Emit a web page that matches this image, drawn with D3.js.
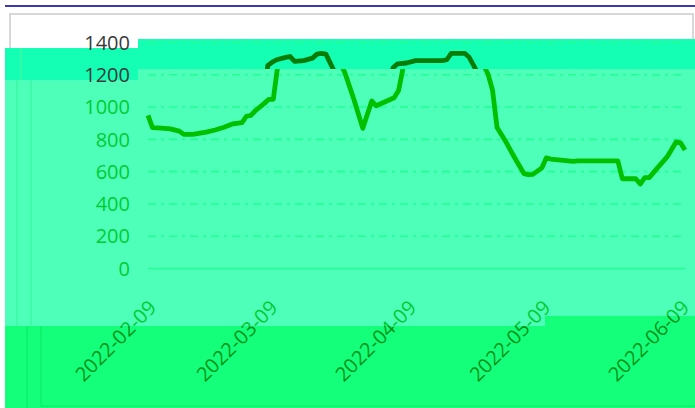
<!DOCTYPE html>
<html>
<head>
<meta charset="utf-8">
<script src="https://cdn.jsdelivr.net/npm/d3@7"></script>
<style>
  body { margin: 0; background: #fff; }
  svg { display: block; }
  .ylab text { font-family: "Open Sans", sans-serif; font-size: 20px; }
  .xlab text { font-family: "Open Sans", sans-serif; font-size: 20px; }
</style>
</head>
<body>
<div id="chart"></div>
<script>
// data
var dates = ["2022-02-09","2022-02-10","2022-02-12","2022-02-14","2022-02-16","2022-02-17","2022-02-19",
  "2022-02-22","2022-02-24","2022-02-26","2022-02-28","2022-03-02","2022-03-03","2022-03-04","2022-03-05",
  "2022-03-07","2022-03-08","2022-03-09","2022-03-10","2022-03-11","2022-03-12","2022-03-14","2022-03-15",
  "2022-03-16","2022-03-18","2022-03-20","2022-03-21","2022-03-22","2022-03-23","2022-03-25","2022-03-27",
  "2022-03-29","2022-03-31","2022-04-01","2022-04-03","2022-04-05","2022-04-06","2022-04-07","2022-04-08",
  "2022-04-10","2022-04-12","2022-04-18","2022-04-19","2022-04-20","2022-04-23","2022-04-24","2022-04-25",
  "2022-04-26","2022-04-27","2022-04-28","2022-04-30","2022-05-02","2022-05-04","2022-05-05","2022-05-06",
  "2022-05-07","2022-05-08","2022-05-09","2022-05-10","2022-05-15","2022-05-16","2022-05-24","2022-05-25",
  "2022-05-26","2022-05-28","2022-05-29","2022-05-30","2022-05-31","2022-06-01","2022-06-03","2022-06-05",
  "2022-06-07","2022-06-08","2022-06-09"];
var values = [945,870,866,862,848,828,828,
  842,855,872,893,900,940,945,975,
  1020,1045,1045,1255,1275,1290,1305,1310,
  1280,1285,1300,1325,1330,1325,1210,1045,
  865,1035,1005,1030,1055,1100,1240,1265,
  1270,1285,1285,1290,1330,1330,1305,1255,
  1200,1100,870,780,680,585,578,580,
  600,620,682,675,660,663,663,663,
  553,553,553,520,560,560,625,688,
  781,775,731];
var yTicks = [0, 200, 400, 600, 800, 1000, 1200, 1400];
var xTicks = ["2022-02-09","2022-03-09","2022-04-09","2022-05-09","2022-06-09"];

var W = 695, H = 408;
var parse = d3.timeParse("%Y-%m-%d");
var fmt = d3.timeFormat("%Y-%m-%d");
var points = dates.map(function (d, i) { return { date: parse(d), value: values[i] }; });

var svg = d3.select("#chart").append("svg")
    .attr("width", W).attr("height", H);

var x = d3.scaleTime()
    .domain([parse("2022-02-09"), parse("2022-06-09")])
    .range([148, 685]);
var y = d3.scaleLinear()
    .domain([0, 1400])
    .range([268, 42]);

// clip regions
var defs = svg.append("defs");
defs.append("clipPath").attr("id", "clipTop")
    .append("rect").attr("x", 0).attr("y", 39).attr("width", W).attr("height", 30);
defs.append("clipPath").attr("id", "clipMain")
    .append("rect").attr("x", 0).attr("y", 69).attr("width", W).attr("height", H);
var cu = defs.append("clipPath").attr("id", "clipUpper");
cu.append("rect").attr("x", 0).attr("y", 0).attr("width", 545).attr("height", 326);
cu.append("rect").attr("x", 545).attr("y", 0).attr("width", 150).attr("height", 316);
var cl = defs.append("clipPath").attr("id", "clipLower");
cl.append("rect").attr("x", 0).attr("y", 326).attr("width", 545).attr("height", 90);
cl.append("rect").attr("x", 545).attr("y", 316).attr("width", 150).attr("height", 100);

// background panels
svg.append("line").attr("x1", 5).attr("x2", W).attr("y1", 6).attr("y2", 6)
    .style("stroke", "#3a3aae").style("stroke-width", 2);
svg.append("rect").attr("x", 10).attr("y", 14).attr("width", 683).attr("height", 380)
    .style("fill", "#fff").style("stroke", "#d8d8d8").style("stroke-width", 2);

svg.append("rect").attr("x", 5).attr("y", 48).attr("width", 135).attr("height", 32).style("fill", "#14ffb4");
svg.append("rect").attr("x", 138).attr("y", 39).attr("width", W - 138).attr("height", 30).style("fill", "#14ffb4");
svg.append("rect").attr("x", 5).attr("y", 80).attr("width", 135).attr("height", 246).style("fill", "#4effb9");
svg.append("rect").attr("x", 138).attr("y", 69).attr("width", 407).attr("height", 257).style("fill", "#4effb9");
svg.append("rect").attr("x", 545).attr("y", 69).attr("width", 150).attr("height", 247).style("fill", "#4effb9");
svg.append("rect").attr("x", 5).attr("y", 326).attr("width", 540).attr("height", 82).style("fill", "#14ff7a");
svg.append("rect").attr("x", 545).attr("y", 316).attr("width", 150).attr("height", 92).style("fill", "#14ff7a");

// frame lines of the stacked panels
[[21, 48, 80], [17, 80, 326], [31, 80, 326], [27, 326, 408], [41, 326, 406]].forEach(function (v, i) {
    svg.append("line").attr("x1", v[0]).attr("x2", v[0]).attr("y1", v[1]).attr("y2", v[2])
        .style("stroke", i < 3 ? "#3cf7a4" : "#0ef06a").style("stroke-width", 1.5);
});
svg.append("line").attr("x1", 41).attr("x2", W).attr("y1", 406).attr("y2", 406)
    .style("stroke", "#0ef06a").style("stroke-width", 1.5);

// gridlines
var grid = svg.append("g")
    .attr("transform", "translate(148,0)")
    .call(d3.axisLeft(y).tickValues(yTicks).tickSize(-(685 - 148)).tickFormat(""));
grid.select(".domain").remove();
grid.selectAll(".tick line")
    .style("stroke", "#22ff94")
    .style("stroke-width", 1.6)
    .style("stroke-dasharray", function (d) { return d === 0 ? null : "8,5,3,5"; });

// y labels
var yl = svg.append("g").attr("class", "ylab")
    .attr("transform", "translate(148,0)")
    .call(d3.axisLeft(y).tickValues(yTicks).tickFormat(d3.format("d")).tickSize(0).tickPadding(18));
yl.select(".domain").remove();
yl.selectAll(".tick text")
    .attr("dy", "0.36em")
    .style("fill", function (d) { return d >= 1200 ? "#3a3a3a" : "#00cc32"; });

// line
var line = d3.line()
    .x(function (d) { return x(d.date); })
    .y(function (d) { return y(d.value); });

svg.append("g").attr("clip-path", "url(#clipMain)")
    .append("path").datum(points)
    .attr("d", line)
    .style("fill", "none").style("stroke", "#00c000")
    .style("stroke-width", 4.8).style("stroke-linejoin", "round");
svg.append("g").attr("clip-path", "url(#clipTop)")
    .append("path").datum(points)
    .attr("transform", "translate(-10,0)")
    .attr("d", line)
    .style("fill", "none").style("stroke", "#077c07")
    .style("stroke-width", 4.8).style("stroke-linejoin", "round");

// x labels, drawn twice for the two panels they cross
function xLabels(clip, color) {
    var g = svg.append("g").attr("clip-path", "url(#" + clip + ")")
        .append("g").attr("class", "xlab")
        .attr("transform", "translate(0,309)")
        .call(d3.axisBottom(x).tickValues(xTicks.map(parse)).tickFormat(fmt).tickSize(0));
    g.select(".domain").remove();
    g.selectAll(".tick text")
        .attr("transform", function (d, i) {
            return "translate(" + (i === 0 ? 9 : 5) + ",0) rotate(-45)";
        })
        .attr("text-anchor", "end")
        .attr("x", 0).attr("y", 0).attr("dy", 0)
        .style("fill", color);
}
xLabels("clipUpper", "#00cc30");
xLabels("clipLower", "#009418");
</script>
</body>
</html>
